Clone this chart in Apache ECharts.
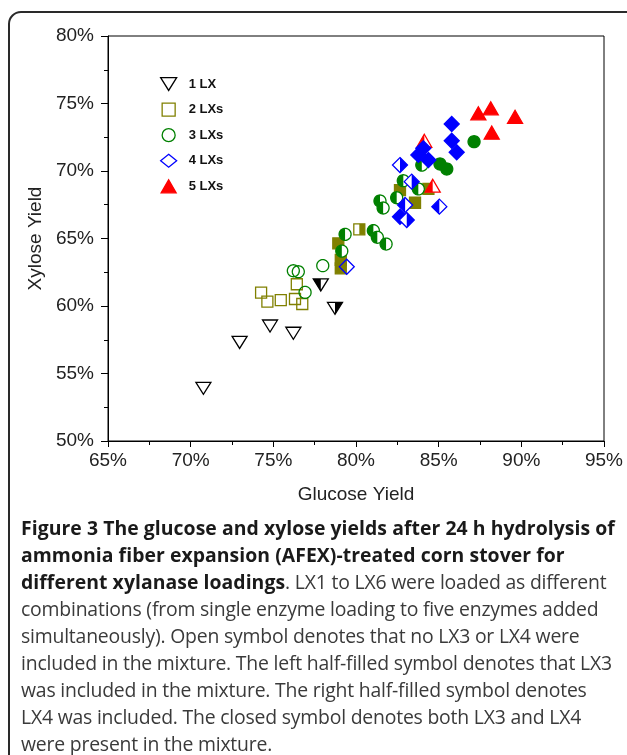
<!DOCTYPE html>
<html><head><meta charset="utf-8">
<script src="https://cdn.jsdelivr.net/npm/echarts@6/dist/echarts.min.js"></script>
<style>
html,body{margin:0;padding:0;background:#fff;width:627px;height:755px;overflow:hidden;position:relative;}
#frame{position:absolute;left:8px;top:11px;width:680px;height:800px;border:2px solid #2a2a2a;border-radius:13px;box-sizing:border-box;}
#chart{position:absolute;left:0;top:0;width:627px;height:515px;}
#caption{position:absolute;left:21px;top:514px;font-family:'Open Sans',sans-serif;font-size:19.4px;line-height:27px;color:#3a3a3a;white-space:nowrap;letter-spacing:-0.2px;}
#caption b{color:#1a1a1a;font-weight:700;letter-spacing:0.05px;}
</style>
</head><body>
<div id="frame"></div>
<div id="chart"></div>
<div id="caption"><b>Figure 3 The glucose and xylose yields after 24 h hydrolysis of</b><br><b>ammonia fiber expansion (AFEX)-treated corn stover for</b><br><b>different xylanase loadings</b>. LX1 to LX6 were loaded as different<br>combinations (from single enzyme loading to five enzymes added<br>simultaneously). Open symbol denotes that no LX3 or LX4 were<br>included in the mixture. The left half-filled symbol denotes that LX3<br>was included in the mixture. The right half-filled symbol denotes<br>LX4 was included. The closed symbol denotes both LX3 and LX4<br>were present in the mixture.</div>
<script>
// ---- data (glucose yield %, xylose yield %, fill: open / left / right / full) ----
const seriesNames = ['1 LX', '2 LXs', '3 LXs', '4 LXs', '5 LXs'];
const xTicks = [65, 70, 75, 80, 85, 90, 95];
const yTicks = [50, 55, 60, 65, 70, 75, 80];

const lx1Glucose = [70.77, 72.96, 74.80, 76.21, 77.87, 78.73];
const lx1Xylose  = [53.90, 57.30, 58.52, 57.98, 61.56, 59.83];
const lx1Fill    = ['open', 'open', 'open', 'open', 'left', 'right'];

const lx2Glucose = [74.26, 74.64, 75.45, 76.42, 76.31, 76.75, 78.93, 79.08, 79.08, 80.20, 82.66, 83.57, 84.38];
const lx2Xylose  = [60.99, 60.32, 60.44, 61.61, 60.52, 60.15, 64.64, 63.41, 62.79, 65.68, 68.59, 67.65, 68.67];
const lx2Fill    = ['open', 'open', 'open', 'open', 'open', 'open', 'full', 'full', 'full', 'right', 'full', 'full', 'full'];

const lx3Glucose = [76.21, 76.51, 76.92, 77.99, 79.34, 79.14, 81.05, 81.29, 81.82, 81.45, 81.64, 82.46, 82.86, 83.77, 83.98, 85.08, 85.49, 87.14];
const lx3Xylose  = [62.61, 62.54, 61.01, 62.99, 65.31, 64.07, 65.58, 65.09, 64.59, 67.78, 67.26, 68.02, 69.28, 68.67, 70.44, 70.52, 70.15, 72.17];
const lx3Fill    = ['open', 'open', 'open', 'open', 'left', 'left', 'left', 'left', 'left', 'left', 'left', 'left', 'left', 'left', 'left', 'full', 'full', 'full'];

const lx4Glucose = [85.79, 85.79, 86.09, 84.07, 83.77, 84.38, 82.66, 83.37, 82.97, 82.66, 83.07, 85.04, 79.44];
const lx4Xylose  = [73.48, 72.24, 71.39, 71.68, 71.19, 70.81, 70.44, 69.21, 67.48, 66.61, 66.37, 67.36, 62.91];
const lx4Fill    = ['full', 'full', 'full', 'full', 'full', 'full', 'right', 'right', 'left', 'full', 'right', 'left', 'open'];

const lx5Glucose = [87.40, 88.15, 89.62, 88.21, 84.13, 84.64];
const lx5Xylose  = [74.27, 74.64, 74.02, 72.84, 72.24, 68.91];
const lx5Fill    = ['full', 'full', 'full', 'full', 'left', 'left'];

// ---- symbol geometry ----
const FILL_CODE = {open: 0, left: 1, right: 2, full: 3};
function circlePoly(n) { const a = []; for (let i = 0; i < n; i++) { const t = Math.PI * 2 * i / n - Math.PI / 2; a.push([0.5 * Math.cos(t), 0.5 * Math.sin(t)]); } return a; }
const BASE = {
  triDown: [[-0.5, -0.5], [0.5, -0.5], [0, 0.5]],
  triUp: [[0, -0.5], [0.5, 0.5], [-0.5, 0.5]],
  square: [[-0.5, -0.5], [0.5, -0.5], [0.5, 0.5], [-0.5, 0.5]],
  diamond: [[0, -0.5], [0.5, 0], [0, 0.5], [-0.5, 0]],
  circle: circlePoly(40)
};
function clipHalf(poly, sign) {
  const out = [];
  for (let i = 0; i < poly.length; i++) {
    const a = poly[i], b = poly[(i + 1) % poly.length];
    const ia = sign * a[0] >= -1e-9, ib = sign * b[0] >= -1e-9;
    if (ia) out.push(a);
    if (ia !== ib) { const t = a[0] / (a[0] - b[0]); out.push([0, a[1] + t * (b[1] - a[1])]); }
  }
  return out;
}
function makeRender(shape, w, h, color, lw) {
  const full = BASE[shape], left = clipHalf(full, -1), right = clipHalf(full, 1);
  return function (params, api) {
    const c = api.coord([api.value(0), api.value(1)]);
    const mode = api.value(2);
    const tr = pts => pts.map(p => [c[0] + p[0] * w, c[1] + p[1] * h]);
    const children = [];
    children.push({type: 'polygon', shape: {points: tr(full)}, style: {fill: mode === 3 ? color : (mode === 0 ? 'none' : '#fff'), stroke: 'none'}});
    if (mode === 1 || mode === 2) children.push({type: 'polygon', shape: {points: tr(mode === 1 ? left : right)}, style: {fill: color, stroke: 'none'}});
    children.push({type: 'polygon', shape: {points: tr(full)}, style: {fill: 'none', stroke: color, lineWidth: lw, lineJoin: 'miter'}});
    return {type: 'group', children: children};
  };
}
function build(xs, ys, fills) { return xs.map((x, i) => [x, ys[i], FILL_CODE[fills[i]]]); }

const groups = [
  {name: seriesNames[0], data: build(lx1Glucose, lx1Xylose, lx1Fill), shape: 'triDown', w: 15, h: 12, color: '#000000', icon: 'path://M0,0L15,0L7.5,12Z', legendFill: 'rgba(0,0,0,0)'},
  {name: seriesNames[1], data: build(lx2Glucose, lx2Xylose, lx2Fill), shape: 'square', w: 11, h: 11, color: '#808000', icon: 'path://M0,0L11,0L11,11L0,11Z', legendFill: 'rgba(0,0,0,0)'},
  {name: seriesNames[2], data: build(lx3Glucose, lx3Xylose, lx3Fill), shape: 'circle', w: 12, h: 12, color: '#008000', icon: 'circle', legendFill: 'rgba(0,0,0,0)'},
  {name: seriesNames[4], data: build(lx5Glucose, lx5Xylose, lx5Fill), shape: 'triUp', w: 15, h: 13, color: '#ff0000', icon: 'path://M7.5,0L15,13L0,13Z', legendFill: '#ff0000'},
  {name: seriesNames[3], data: build(lx4Glucose, lx4Xylose, lx4Fill), shape: 'diamond', w: 15, h: 15, color: '#0000ff', icon: 'diamond', legendFill: 'rgba(0,0,0,0)'}
];

const legendOrder = [0, 1, 2, 4, 3];
const chart = echarts.init(document.getElementById('chart'), null, {renderer: 'canvas'});
const axisFont = {fontFamily: 'Liberation Sans, Arial, sans-serif', fontSize: 19, color: '#222'};
chart.setOption({
  animation: false,
  grid: {left: 108, right: 23, top: 36, bottom: 74, show: true, borderColor: '#000', borderWidth: 1, backgroundColor: 'transparent'},
  legend: {
    orient: 'vertical', left: 155, top: 72, itemWidth: 16, itemHeight: 13, itemGap: 11.3,
    textStyle: {fontFamily: 'Liberation Sans, Arial, sans-serif', fontWeight: 'bold', fontSize: 13, color: '#111', padding: [0, 0, 0, 7]},
    data: legendOrder.map(i => ({name: groups[i].name, icon: groups[i].icon, itemStyle: {color: groups[i].legendFill, borderColor: groups[i].color, borderWidth: 1.3}}))
  },
  xAxis: {
    type: 'value', min: xTicks[0], max: xTicks[xTicks.length - 1], interval: 5,
    name: 'Glucose Yield', nameLocation: 'middle', nameGap: 44, nameTextStyle: axisFont,
    axisLine: {show: true, lineStyle: {color: '#000', width: 1}},
    axisTick: {show: true, inside: false, length: 6, lineStyle: {color: '#000'}},
    minorTick: {show: true, splitNumber: 2, length: 4, lineStyle: {color: '#000'}},
    splitLine: {show: false},
    axisLabel: Object.assign({formatter: '{value}%', margin: 10}, axisFont)
  },
  yAxis: {
    type: 'value', min: yTicks[0], max: yTicks[yTicks.length - 1], interval: 5,
    name: 'Xylose Yield', nameLocation: 'middle', nameGap: 60, nameRotate: 90, nameTextStyle: axisFont,
    axisLine: {show: true, lineStyle: {color: '#000', width: 1}},
    axisTick: {show: true, inside: false, length: 7, lineStyle: {color: '#000'}},
    minorTick: {show: true, splitNumber: 2, length: 4, lineStyle: {color: '#000'}},
    splitLine: {show: false},
    axisLabel: Object.assign({formatter: '{value}%', margin: 14}, axisFont)
  },
  series: groups.map(g => ({
    type: 'custom', name: g.name, data: g.data, encode: {x: 0, y: 1},
    itemStyle: {color: g.legendFill, borderColor: g.color, borderWidth: 1.3},
    renderItem: makeRender(g.shape, g.w, g.h, g.color, 1.3)
  }))
});
</script>
</body></html>
